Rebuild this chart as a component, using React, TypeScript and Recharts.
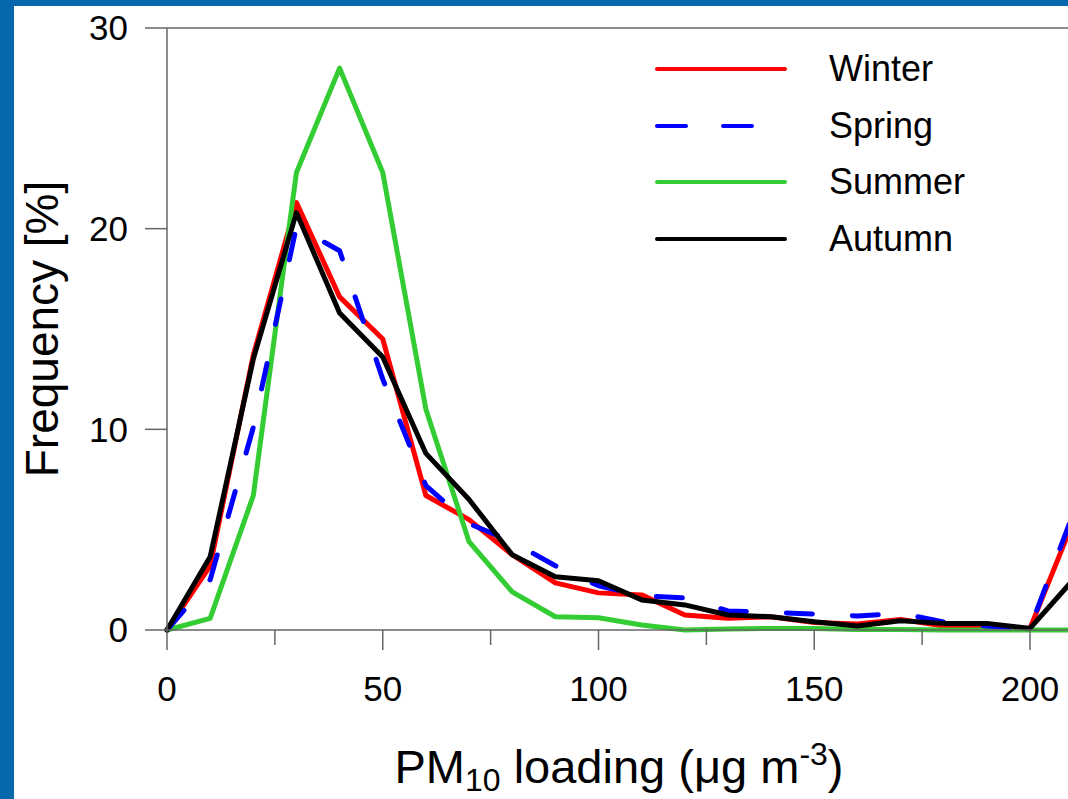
import { LineChart, Line, XAxis, YAxis, Legend, ReferenceLine } from "recharts";

// PM10 loading bins (µg m-3)
const bins = [0, 10, 20, 30, 40, 50, 60, 70, 80, 90, 100, 110, 120, 130, 140, 150, 160, 170, 180, 190, 200, 210];

const winter = [0, 3.2, 13.7, 21.3, 16.6, 14.5, 6.7, 5.5, 3.75, 2.35, 1.85, 1.75, 0.75, 0.58, 0.66, 0.37, 0.3, 0.53, 0.2, 0.2, 0.08, 5.4];
const spring = [0, 2.5, 10.1, 20.1, 18.9, 12.5, 7.2, 5.3, 4.4, 3.2, 2.2, 1.7, 1.6, 0.95, 0.88, 0.8, 0.7, 0.83, 0.4, 0.2, 0.08, 5.8];
const summer = [0, 0.58, 6.7, 22.8, 28.0, 22.8, 11.0, 4.4, 1.9, 0.66, 0.61, 0.25, 0, 0.05, 0.08, 0.08, 0.03, 0.03, 0, 0, 0, 0];
const autumn = [0, 3.65, 13.5, 20.8, 15.8, 13.6, 8.8, 6.5, 3.75, 2.65, 2.45, 1.5, 1.25, 0.75, 0.66, 0.41, 0.2, 0.46, 0.33, 0.33, 0.08, 2.5];

const xTicks = [0, 25, 50, 75, 100, 125, 150, 175, 200];
const yTicks = [0, 10, 20, 30];

const series = [
  { key: "winter", name: "Winter", color: "#ff0000", dash: undefined as string | undefined, legendDash: undefined as string | undefined },
  { key: "summer", name: "Summer", color: "#33cc33", dash: undefined, legendDash: undefined },
  { key: "spring", name: "Spring", color: "#0000ff", dash: "26 40", legendDash: "29 37" },
  { key: "autumn", name: "Autumn", color: "#000000", dash: undefined, legendDash: undefined },
];
const legendOrder = ["Winter", "Spring", "Summer", "Autumn"];

const data = bins.map((x, i) => ({
  x,
  winter: winter[i],
  spring: spring[i],
  summer: summer[i],
  autumn: autumn[i],
}));

const AXIS = "#666";
const FONT = "'Liberation Sans', Arial, sans-serif";

function XTick(props: any) {
  const { x, y, payload } = props;
  const major = payload.value % 50 === 0;
  return (
    <g>
      <line x1={x} y1={y} x2={x} y2={y + (major ? 20 : 15)} stroke={AXIS} strokeWidth={1.5} />
      {major && (
        <text x={x} y={y + 71} textAnchor="middle" fontSize={35} fill="#000" fontFamily={FONT}>
          {payload.value}
        </text>
      )}
    </g>
  );
}

function renderLegend() {
  return (
    <div style={{ fontFamily: FONT }}>
      {legendOrder.map((name) => {
        const s = series.find((d) => d.name === name)!;
        return (
          <div key={name} style={{ display: "flex", alignItems: "center", height: 56.67 }}>
            <svg width={140} height={10} style={{ display: "block" }}>
              <line
                x1={6}
                y1={5}
                x2={134}
                y2={5}
                stroke={s.color}
                strokeWidth={4}
                strokeLinecap="round"
                strokeDasharray={s.legendDash}
              />
            </svg>
            <span style={{ marginLeft: 38, fontSize: 36, color: "#000" }}>{name}</span>
          </div>
        );
      })}
    </div>
  );
}

export default function App() {
  return (
    <div
      style={{
        position: "fixed",
        left: 0,
        top: 0,
        width: 1068,
        height: 799,
        overflow: "hidden",
        background: "#0567ac",
      }}
    >
      <div style={{ position: "absolute", left: 14, top: 6, right: 0, bottom: 0, background: "#fff" }} />
      <div style={{ position: "absolute", left: 0, top: 0 }}>
        <LineChart width={1100} height={799} data={data} margin={{ top: 28, right: 26.85, bottom: 0, left: 0 }}>
          <XAxis
            dataKey="x"
            type="number"
            domain={[0, 210]}
            ticks={xTicks}
            interval={0}
            tickSize={0}
            tickMargin={0}
            tickLine={false}
            axisLine={{ stroke: AXIS, strokeWidth: 1.5 }}
            height={169}
            tick={<XTick />}
            label={{
              content: () => (
                <text x={619} y={783} textAnchor="middle" fontSize={47} fill="#000" fontFamily={FONT}>
                  <tspan>PM</tspan>
                  <tspan fontSize={32} dy={8}>10</tspan>
                  <tspan dy={-8}> loading (μg m</tspan>
                  <tspan fontSize={32} dy={-18}>-3</tspan>
                  <tspan dy={18}>)</tspan>
                </text>
              ),
            }}
          />
          <YAxis
            type="number"
            domain={[0, 30]}
            ticks={yTicks}
            interval={0}
            width={167}
            tickSize={22}
            tickMargin={17}
            tickLine={{ stroke: AXIS, strokeWidth: 1.5 }}
            axisLine={{ stroke: AXIS, strokeWidth: 1.5 }}
            tick={{ fill: "#000", fontSize: 35, fontFamily: FONT }}
            label={{
              content: () => (
                <text
                  x={58}
                  y={329}
                  transform="rotate(-90 58 329)"
                  textAnchor="middle"
                  fontSize={46}
                  fill="#000"
                  fontFamily={FONT}
                >
                  Frequency [%]
                </text>
              ),
            }}
          />
          <ReferenceLine y={30} stroke={AXIS} strokeWidth={1.5} />
          <Legend
            layout="horizontal"
            align="center"
            verticalAlign="middle"
            content={renderLegend}
            wrapperStyle={{ position: "absolute", left: 651, top: 40.7, width: 420 }}
          />
          {series.map((s) => (
            <Line
              key={s.key}
              type="linear"
              dataKey={s.key}
              name={s.name}
              stroke={s.color}
              strokeWidth={5}
              strokeDasharray={s.dash}
              strokeLinecap="round"
              strokeLinejoin="round"
              dot={false}
              activeDot={false}
              isAnimationActive={false}
            />
          ))}
        </LineChart>
      </div>
    </div>
  );
}
